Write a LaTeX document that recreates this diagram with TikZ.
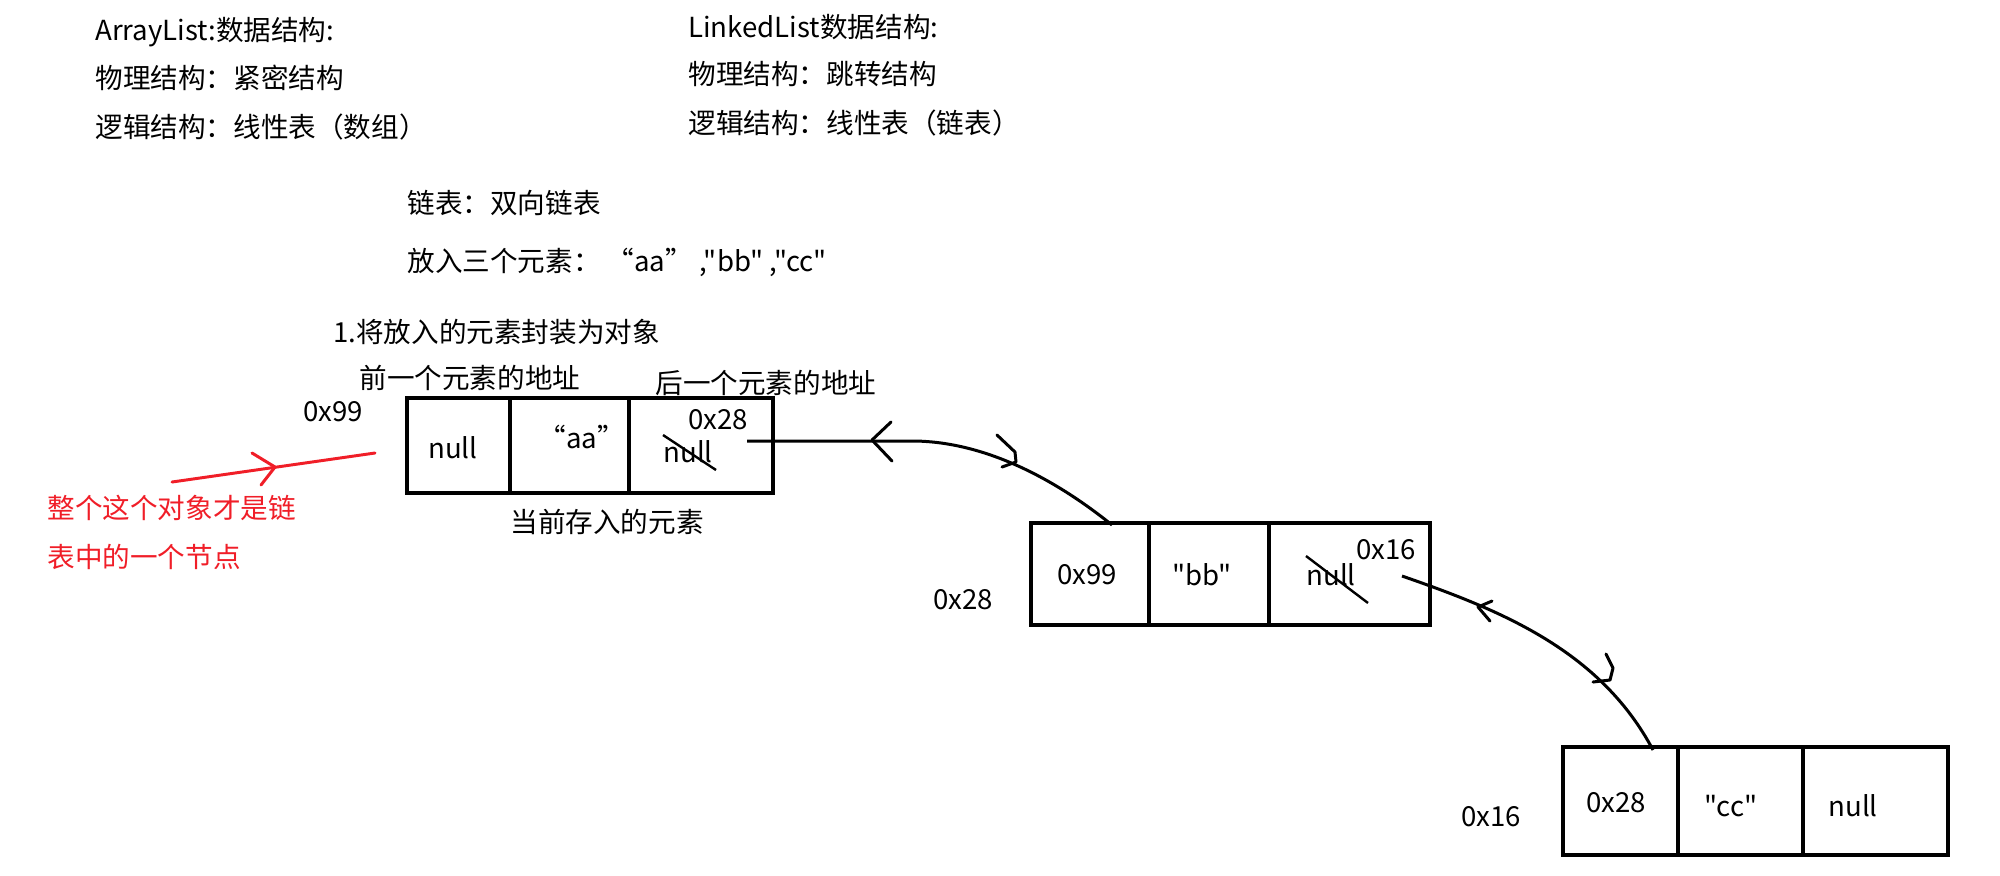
\documentclass[tikz,border=0pt]{standalone}
\usepackage{fontspec}
\newfontfamily\cjkfont{Noto Sans CJK SC}
\usetikzlibrary{fit}
\definecolor{redmark}{RGB}{240,30,40}
\begin{document}
\begin{tikzpicture}[x=0.5pt,y=-0.5pt,
  txt/.style={anchor=west,inner sep=0pt,font=\cjkfont\fontsize{13.8}{16}\selectfont},
  cellbox/.style={draw,line width=1.6pt,inner sep=0pt},
  link/.style={line width=1.5pt},
  chev/.style={line width=1.5pt,line cap=round,line join=round},
  strike/.style={line width=1.2pt},
  redline/.style={draw=redmark,line width=1.5pt,line cap=round,line join=round}]
\useasboundingbox (0,0) rectangle (2000,875);

% header texts
\node[txt] (t1) at (95,32) {ArrayList:数据结构:};
\node[txt] (t2) at (95,78) {物理结构：紧密结构};
\node[txt] (t3) at (95,127) {逻辑结构：线性表（数组）};
\node[txt] (t4) at (688,27) {LinkedList数据结构:};
\node[txt] (t5) at (688,74) {物理结构：跳转结构};
\node[txt] (t6) at (688,123) {逻辑结构：线性表（链表）};
\node[txt] (t7) at (407,203) {链表：双向链表};
\node[txt] (t8) at (407,262) {放入三个元素： “aa” ,"bb" ,"cc"};
\node[txt] (t9) at (333,332) {1.将放入的元素封装为对象};
\node[txt] (t10) at (359,378) {前一个元素的地址};
\node[txt] (t11) at (655,383) {后一个元素的地址};
\node[txt] (t12) at (510,522) {当前存入的元素};

% red note
\node[txt,text=redmark] (r1) at (47,508) {整个这个对象才是链};
\node[txt,text=redmark] (r2) at (47,557) {表中的一个节点};
\coordinate (rs) at (172,482);
\coordinate (re) at (375,453);
\draw[redline] (rs) -- (re);
\draw[redline] (252,453) -- (275,467) -- (261,485);

% node 1
\node[txt] (ad1) at (303,412) {0x99};
\node[cellbox, fit={(407,398) (510,493)}] (b1a) {};
\node[cellbox, fit={(510,398) (629,493)}] (b1b) {};
\node[cellbox, fit={(629,398) (773,493)}] (b1c) {};
\node[txt] (v1a) at (428,448) {null};
\node[txt] (v1b) at (538,437) {“aa”};
\node[txt] (v1n) at (688,420) {0x28};
\node[txt] (v1c) at (663,452) {null};
\draw[strike] (663,435) -- (716,470);

% node 2
\node[txt] (ad2) at (933,600) {0x28};
\node[cellbox, fit={(1031,523) (1149,625)}] (b2a) {};
\node[cellbox, fit={(1149,523) (1269,625)}] (b2b) {};
\node[cellbox, fit={(1269,523) (1430,625)}] (b2c) {};
\node[txt] (v2a) at (1057,575) {0x99};
\node[txt] (v2b) at (1172,575) {"bb"};
\node[txt] (v2c) at (1306,575) {null};
\node[txt] (v2n) at (1356,550) {0x16};
\draw[strike] (1306,556) -- (1368,603);

% node 3
\node[txt] (ad3) at (1461,817) {0x16};
\node[cellbox, fit={(1563,747) (1678,855)}] (b3a) {};
\node[cellbox, fit={(1678,747) (1803,855)}] (b3b) {};
\node[cellbox, fit={(1803,747) (1948,855)}] (b3c) {};
\node[txt] (v3a) at (1586,803) {0x28};
\node[txt] (v3b) at (1704,806) {"cc"};
\node[txt] (v3c) at (1828,806) {null};

% links
\coordinate (p1s) at (747,441);
\coordinate (p1e) at (1112,525);
\draw[link] (p1s) -- (912,441) .. controls (980,441) and (1050,475) .. (p1e);
\draw[chev] (891,422) -- (872,440) -- (892,461);
\draw[chev] (997,435) -- (1015,452) -- (1016,462) -- (1002,467);

\coordinate (p2s) at (1402,576);
\coordinate (p2e) at (1653,750);
\draw[link] (p2s) .. controls (1500,610) and (1600,650) .. (p2e);
\draw[chev] (1492,601) -- (1478,607) -- (1490,621);
\draw[chev] (1606,654) -- (1613,668) -- (1610,680) -- (1593,682);
\end{tikzpicture}
\end{document}
